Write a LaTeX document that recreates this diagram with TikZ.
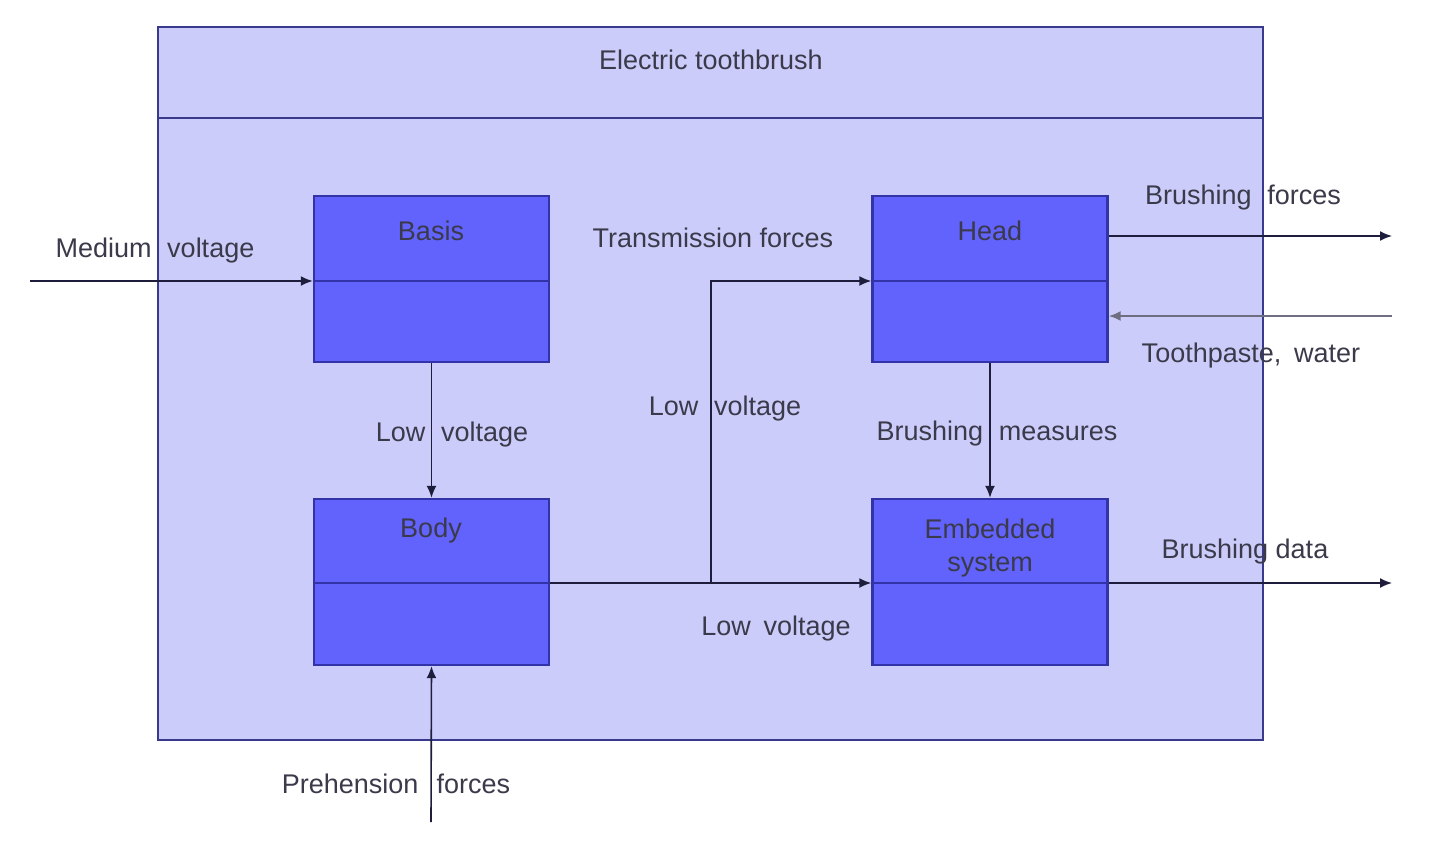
\documentclass[tikz,border=0pt]{standalone}
\usepackage{fontspec}
\setmainfont{Liberation Sans}
\usetikzlibrary{arrows.meta}
\definecolor{outerfill}{HTML}{CCCCFB}
\definecolor{outerline}{HTML}{3A3A8C}
\definecolor{boxfill}{HTML}{6262FC}
\definecolor{boxline}{HTML}{3333A8}
\definecolor{txt}{HTML}{3A3A4A}
\definecolor{wire}{HTML}{1E1E3C}
\definecolor{greywire}{HTML}{6E6E80}
\begin{document}
\begin{tikzpicture}[x=0.5pt,y=-0.5pt,
  lbl/.style={font=\fontsize{13.5}{15}\selectfont, text=txt, inner sep=0pt},
  blk/.style={draw=boxline, line width=1.2pt, fill=boxfill, minimum width=117.5pt, minimum height=83pt, inner sep=0pt},
  wirel/.style={draw=wire, line width=0.8pt, -{Latex[length=6pt,width=5pt]}},
  plainwire/.style={draw=wire, line width=0.8pt}]
\useasboundingbox (0,0) rectangle (1448,848);
\fill[white] (0,0) rectangle (1448,848);
% outer system box
\node[draw=outerline, line width=1.2pt, fill=outerfill, minimum width=552.5pt, minimum height=356.5pt, inner sep=0pt] (sys) at (710.5,383.5) {};
\coordinate (sepL) at (158,118);
\coordinate (sepR) at (1263,118);
\draw[outerline, line width=1pt] (sepL) -- (sepR);
\node[lbl] (title) at (711,60) {Electric toothbrush};
% blocks
\node[blk] (basis) at (431.5,279) {};
\node[blk] (head) at (990,279) {};
\node[blk] (body) at (431.5,582) {};
\node[blk] (emb) at (990,582) {};
\draw[boxline, line width=1pt] (basis.west |- 0,281) -- (basis.east |- 0,281);
\draw[boxline, line width=1pt] (head.west |- 0,281) -- (head.east |- 0,281);
\draw[boxline, line width=1pt] (body.west |- 0,583) -- (body.east |- 0,583);
\draw[boxline, line width=1pt] (emb.west |- 0,583) -- (emb.east |- 0,583);
\node[lbl] (tbasis) at (431,231) {Basis};
\node[lbl] (thead) at (990,231) {Head};
\node[lbl] (tbody) at (431,531) {Body};
\node[lbl, align=center, font=\fontsize{13.5}{16.5}\selectfont] (temb) at (990,548) {Embedded\\system};
% external coordinates
\coordinate (mvin) at (30,281);
\coordinate (bfout) at (1392,236);
\coordinate (tpin) at (1392,316);
\coordinate (bdout) at (1392,583);
\coordinate (phin) at (431,822);
\coordinate (branch) at (711,583);
\coordinate (corner) at (711,281);
% connectors
\draw[wirel] (mvin) -- (basis.west |- mvin);
\draw[wirel] (basis.south) -- (body.north);
\draw[wirel] (body.east |- branch) -- (emb.west |- branch);
\draw[wirel] (branch) -- (corner) -- (head.west |- corner);
\draw[wirel] (head.east |- bfout) -- (bfout);
\draw[draw=greywire, line width=1pt, -{Latex[length=6pt,width=5pt]}] (tpin) -- (head.east |- tpin);
\draw[wirel] (head.south) -- (emb.north);
\draw[wirel] (emb.east |- bdout) -- (bdout);
\draw[wirel] (phin) -- (body.south);
% labels
\node[lbl] (lmv) at (155,251) {Medium\hspace{0.3em} voltage};
\node[lbl] (llv1) at (452,435) {Low\hspace{0.3em} voltage};
\node[lbl] (llv2) at (725,409) {Low\hspace{0.3em} voltage};
\node[lbl] (llv3) at (776,629) {Low\hspace{0.2em} voltage};
\node[lbl] (ltf) at (713,238) {Transmission forces};
\node[lbl] (lbf) at (1243,198) {Brushing\hspace{0.3em} forces};
\node[lbl] (ltw) at (1251,356) {Toothpaste,\hspace{0.2em} water};
\node[lbl] (lbm) at (997,434) {Brushing\hspace{0.3em} measures};
\node[lbl] (lbd) at (1245,552) {Brushing data};
\node[lbl] (lpf) at (396,784) {Prehension\hspace{0.4em} forces};
\end{tikzpicture}
\end{document}
